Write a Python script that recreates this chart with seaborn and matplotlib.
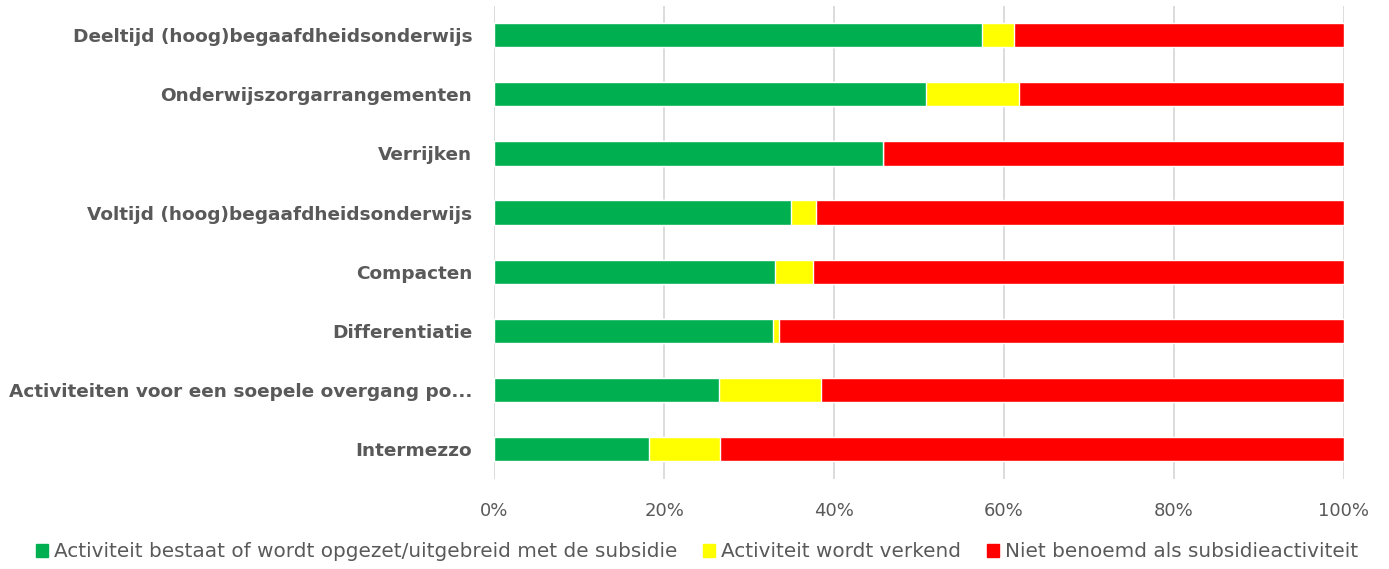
import numpy as np
import pandas as pd
import matplotlib
matplotlib.use('Agg')
import matplotlib.pyplot as plt
import seaborn as sns
from matplotlib.patches import Patch
from matplotlib.ticker import PercentFormatter

categories = ['Deeltijd (hoog)begaafdheidsonderwijs',
              'Onderwijszorgarrangementen',
              'Verrijken',
              'Voltijd (hoog)begaafdheidsonderwijs',
              'Compacten',
              'Differentiatie',
              'Activiteiten voor een soepele overgang po...',
              'Intermezzo']
bestaat  = [57.4, 50.8, 45.7, 34.9, 33.0, 32.8, 26.4, 18.2]
verkend  = [3.8, 10.9, 0.0, 2.9, 4.5, 0.7, 12.1, 8.4]
niet     = [38.8, 38.3, 54.3, 62.2, 62.5, 66.5, 61.5, 73.4]

SERIES = ['Activiteit bestaat of wordt opgezet/uitgebreid met de subsidie',
          'Activiteit wordt verkend',
          'Niet benoemd als subsidieactiviteit']
COLORS = ['#00b050', '#ffff00', '#ff0000']

df = pd.DataFrame({'cat': categories, 'bestaat': bestaat,
                   'verkend': verkend, 'niet': niet})
df['c1'] = df['bestaat']
df['c2'] = df['bestaat'] + df['verkend']
df['c3'] = df['c2'] + df['niet']

sns.set_style('white')
plt.rcParams['font.family'] = ['DejaVu Sans']

fig = plt.figure(figsize=(13.89, 5.69), dpi=100)
ax = fig.add_axes([0.356, 0.159, 0.6115, 0.831])

# stacked look: draw cumulative totals back to front
for col, c in zip(['c3', 'c2', 'c1'], COLORS[::-1]):
    sns.barplot(data=df, x=col, y='cat', color=c, orient='h',
                width=0.41, saturation=1, ax=ax, zorder=3)

ax.set_xlim(0, 100)
ax.xaxis.set_major_formatter(PercentFormatter(decimals=0))
ax.set_xticks(np.arange(0, 101, 20))
ax.grid(axis='x', color='#d9d9d9', linewidth=1.3, zorder=0)
ax.set_axisbelow(True)
for s in ax.spines.values():
    s.set_visible(False)
ax.set_xlabel('')
ax.set_ylabel('')
ax.tick_params(axis='x', length=0, pad=17, labelsize=13, labelcolor='#595959')
ax.tick_params(axis='y', length=0, pad=16, labelsize=13.3, labelcolor='#595959')
for t in ax.get_yticklabels():
    t.set_fontweight('bold')

handles = [Patch(color=c) for c in COLORS]
fig.legend(handles, SERIES, loc='lower center', ncol=3,
           bbox_to_anchor=(0.502, -0.018), frameon=False,
           fontsize=14.4, handlelength=0.6, handleheight=0.6,
           handletextpad=0.3, columnspacing=1.3,
           labelcolor='#595959')

fig.savefig('out.png', dpi=100)
